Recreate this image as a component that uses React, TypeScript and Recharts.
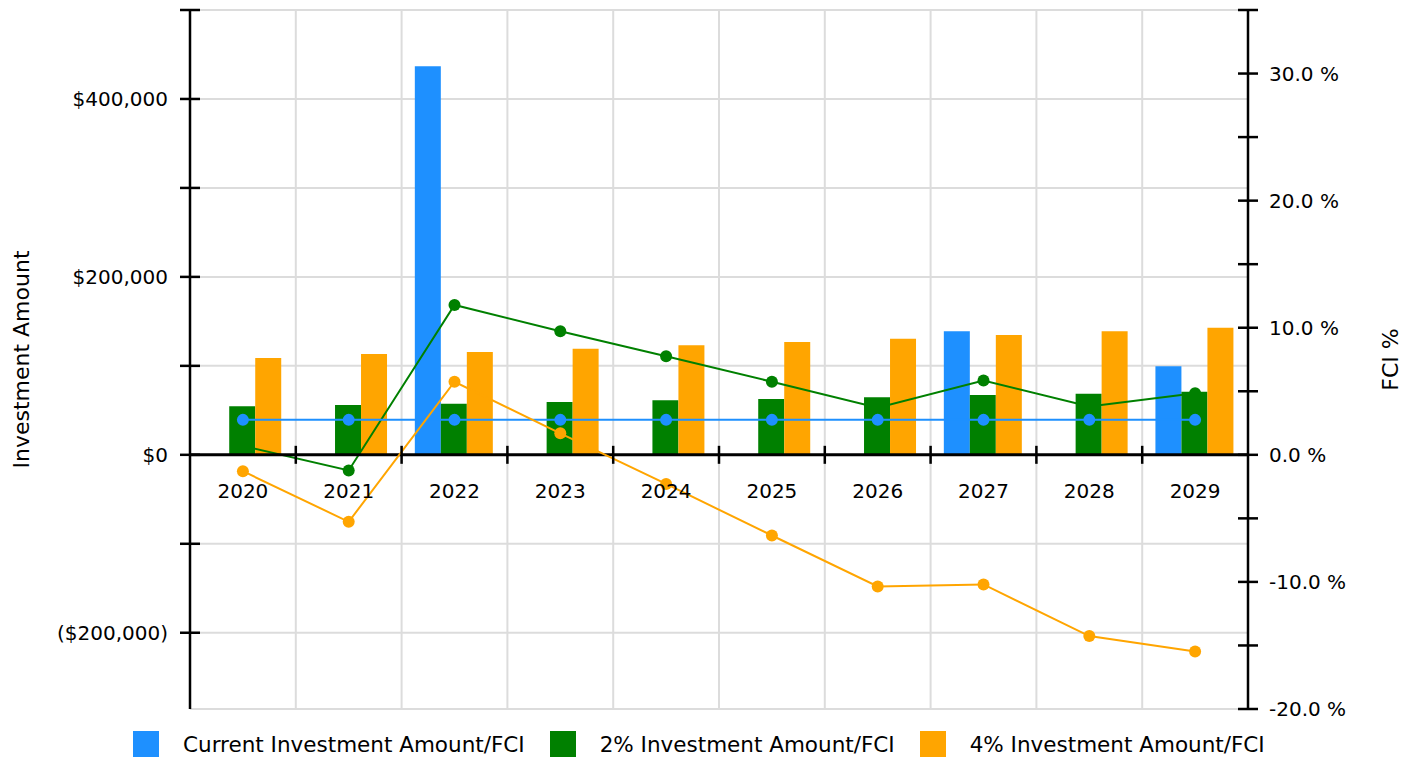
import React from "react";
import {
  Bar,
  CartesianGrid,
  ComposedChart,
  Legend,
  Line,
  ReferenceLine,
  XAxis,
  YAxis,
} from "recharts";

const years = ["2020", "2021", "2022", "2023", "2024", "2025", "2026", "2027", "2028", "2029"];

// investment amounts ($)
const currentAmount = [0, 0, 436700, 0, 0, 0, 0, 138900, 0, 99500];
const amount2 = [54500, 55900, 57400, 59300, 61200, 62700, 64600, 67200, 68700, 70900];
const amount4 = [108800, 113300, 115600, 119300, 123100, 126800, 130600, 134700, 138900, 142900];

// FCI (%)
const fciCurrent = [2.75, 2.75, 2.75, 2.75, 2.75, 2.75, 2.75, 2.75, 2.75, 2.75];
const fci2 = [0.7, -1.23, 11.79, 9.73, 7.75, 5.75, 3.7, 5.85, 3.8, 4.85];
const fci4 = [-1.29, -5.27, 5.75, 1.69, -2.29, -6.35, -10.36, -10.2, -14.26, -15.47];

const seriesNames = [
  "Current Investment Amount/FCI",
  "2% Investment Amount/FCI",
  "4% Investment Amount/FCI",
];
const colors = ["#1e90ff", "#008000", "#ffa500"];

const amountTicks = [-200000, -100000, 0, 100000, 200000, 300000, 400000, 500000];
const pctTicks = [-20, -15, -10, -5, 0, 5, 10, 15, 20, 25, 30, 35];
const AMOUNT_MAX = 500000;
const PCT_MIN = -20;
const PCT_MAX = 35;
// keep $0 and 0 % on the same line
const AMOUNT_MIN = (AMOUNT_MAX * PCT_MIN) / PCT_MAX;

const data = years.map((year, i) => ({
  year,
  cur: currentAmount[i],
  a2: amount2[i],
  a4: amount4[i],
  fCur: fciCurrent[i],
  f2: fci2[i],
  f4: fci4[i],
}));

const FONT = "'DejaVu Sans', Verdana, sans-serif";
const WIDTH = 1417;
const HEIGHT = 761;
const MARGIN = { top: 10, right: 0, left: 0, bottom: 2 };
const LEGEND_H = 30;
const X_AXIS_H = 20;
const PLOT_H = HEIGHT - MARGIN.top - MARGIN.bottom - LEGEND_H - X_AXIS_H;
const ZERO_FROM_BOTTOM = (PLOT_H * (0 - AMOUNT_MIN)) / (AMOUNT_MAX - AMOUNT_MIN);

const fmtMoney = (v: number) => {
  if (v === 0) return "$0";
  const s = "$" + Math.abs(v).toLocaleString("en-US");
  return v < 0 ? `(${s})` : s;
};

function AmountTick({ x, y, payload }: any) {
  const v = Number(payload.value);
  return (
    <g>
      <line x1={x - 10} x2={x + 10} y1={y} y2={y} stroke="#000" strokeWidth={2.5} />
      {v % 200000 === 0 && (
        <text x={x - 22} y={y} textAnchor="end" dominantBaseline="central" fontSize={20} fontFamily={FONT} fill="#000">
          {fmtMoney(v)}
        </text>
      )}
    </g>
  );
}

function PctTick({ x, y, payload }: any) {
  const v = Number(payload.value);
  return (
    <g>
      <line x1={x - 10} x2={x + 10} y1={y} y2={y} stroke="#000" strokeWidth={2.5} />
      {v % 10 === 0 && (
        <text x={x + 21} y={y} textAnchor="start" dominantBaseline="central" fontSize={20} fontFamily={FONT} fill="#000">
          {`${v.toFixed(1)} %`}
        </text>
      )}
    </g>
  );
}

function YearTick({ x, y, payload, index }: any) {
  const zeroY = y - ZERO_FROM_BOTTOM;
  const half = payload.offset || 53;
  return (
    <g>
      {index > 0 && (
        <line x1={x - half} x2={x - half} y1={zeroY - 9} y2={zeroY + 9} stroke="#000" strokeWidth={2.5} />
      )}
      <text x={x} y={zeroY + 36} textAnchor="middle" dominantBaseline="central" fontSize={20} fontFamily={FONT} fill="#000">
        {payload.value}
      </text>
    </g>
  );
}

const axisTitle = (text: string, dx: number) => (props: any) => {
  const vb = props.viewBox;
  const x = vb.x + dx;
  const y = vb.y + vb.height / 2;
  return (
    <text
      x={x}
      y={y}
      transform={`rotate(-90, ${x}, ${y})`}
      textAnchor="middle"
      dominantBaseline="central"
      fontSize={22}
      fontFamily={FONT}
      fill="#000"
    >
      {text}
    </text>
  );
};

function LegendBox() {
  return (
    <div
      style={{
        height: LEGEND_H,
        display: "flex",
        alignItems: "center",
        paddingLeft: 133,
        fontFamily: FONT,
        fontSize: 21.5,
        color: "#000",
      }}
    >
      {seriesNames.map((name, i) => (
        <div key={name} style={{ display: "flex", alignItems: "center", marginRight: 25 }}>
          <span style={{ width: 26, height: 26, background: colors[i], marginRight: 24 }} />
          <span style={{ whiteSpace: "nowrap" }}>{name}</span>
        </div>
      ))}
    </div>
  );
}

export default function App() {
  return (
    <div style={{ position: "absolute", left: 0, top: 0, width: WIDTH, height: HEIGHT, background: "#fff" }}>
      <ComposedChart width={WIDTH} height={HEIGHT} data={data} margin={MARGIN} barCategoryGap="12.5%" barGap={0}>
        <CartesianGrid
          yAxisId="left"
          stroke="#dcdcdc"
          strokeWidth={2}
          verticalCoordinatesGenerator={({ offset }: any) =>
            years.slice(1).map((_, i) => offset.left + ((i + 1) * offset.width) / years.length)
          }
        />
        <XAxis
          dataKey="year"
          height={X_AXIS_H}
          axisLine={false}
          tickLine={false}
          tickSize={0}
          tickMargin={0}
          interval={0}
          tick={<YearTick />}
        />
        <YAxis
          yAxisId="left"
          width={190}
          domain={[AMOUNT_MIN, AMOUNT_MAX]}
          allowDataOverflow
          ticks={amountTicks}
          interval={0}
          tickSize={0}
          tickMargin={0}
          axisLine={{ stroke: "#000", strokeWidth: 2.5 }}
          tickLine={false}
          tick={<AmountTick />}
          label={axisTitle("Investment Amount", 21)}
        />
        <YAxis
          yAxisId="right"
          orientation="right"
          width={169}
          domain={[PCT_MIN, PCT_MAX]}
          allowDataOverflow
          ticks={pctTicks}
          interval={0}
          tickSize={0}
          tickMargin={0}
          axisLine={{ stroke: "#000", strokeWidth: 2.5 }}
          tickLine={false}
          tick={<PctTick />}
          label={axisTitle("FCI %", 142)}
        />
        <Legend verticalAlign="bottom" content={<LegendBox />} wrapperStyle={{ left: 0, width: WIDTH }} />
        <Line
          yAxisId="right"
          type="linear"
          dataKey="f2"
          name={seriesNames[1]}
          stroke={colors[1]}
          strokeWidth={2}
          dot={{ r: 6, fill: colors[1], stroke: "none" }}
          activeDot={false}
          isAnimationActive={false}
        />
        <Bar yAxisId="left" dataKey="cur" name={seriesNames[0]} fill={colors[0]} isAnimationActive={false} />
        <Bar yAxisId="left" dataKey="a2" name={seriesNames[1]} fill={colors[1]} isAnimationActive={false} />
        <Bar yAxisId="left" dataKey="a4" name={seriesNames[2]} fill={colors[2]} isAnimationActive={false} />
        <ReferenceLine yAxisId="left" y={0} stroke="#000" strokeWidth={3} />
        <Line
          yAxisId="right"
          type="linear"
          dataKey="fCur"
          name={seriesNames[0]}
          stroke={colors[0]}
          strokeWidth={2}
          dot={{ r: 6, fill: colors[0], stroke: "none" }}
          activeDot={false}
          isAnimationActive={false}
        />
        <Line
          yAxisId="right"
          type="linear"
          dataKey="f4"
          name={seriesNames[2]}
          stroke={colors[2]}
          strokeWidth={2}
          dot={{ r: 6, fill: colors[2], stroke: "none" }}
          activeDot={false}
          isAnimationActive={false}
        />
      </ComposedChart>
    </div>
  );
}
